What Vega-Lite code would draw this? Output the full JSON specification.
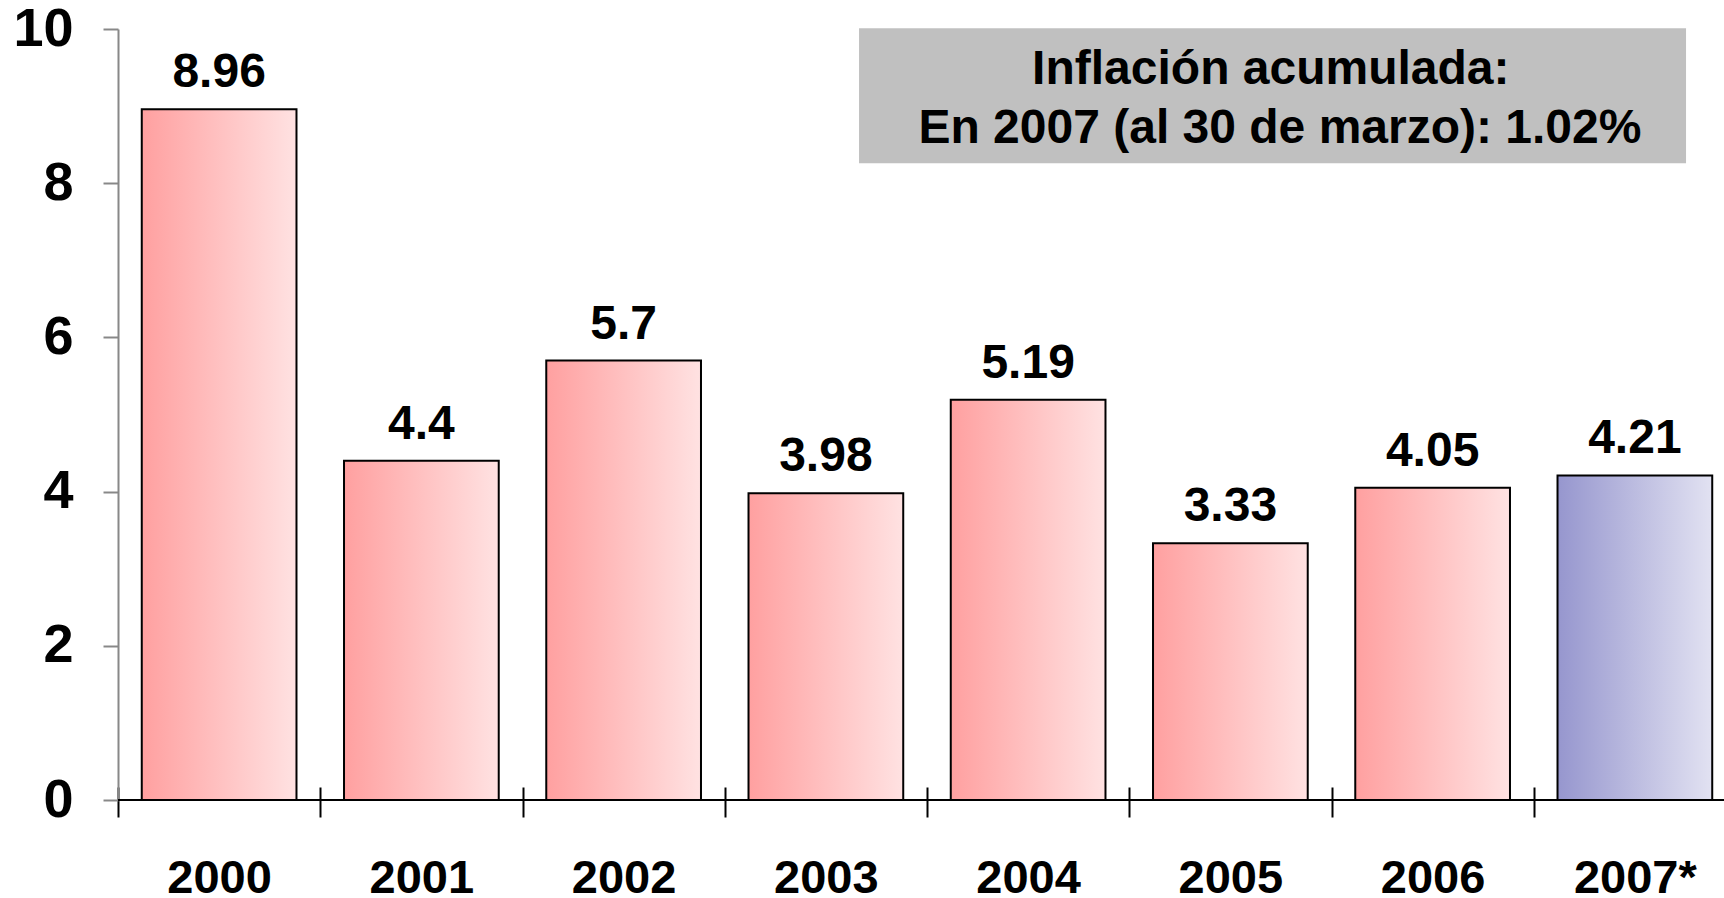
{
  "$schema": "https://vega.github.io/schema/vega-lite/v6.json",
  "autosize": "none",
  "width": 1618,
  "height": 771,
  "padding": {"left": 118, "top": 29, "right": -12, "bottom": 98},
  "background": "white",
  "config": {"view": {"stroke": null}, "font": "Liberation Sans"},
  "datasets": {
    "bars": [
      {"year": "2000", "value": 8.96, "label": "8.96", "group": "hist"},
      {"year": "2001", "value": 4.4, "label": "4.4", "group": "hist"},
      {"year": "2002", "value": 5.7, "label": "5.7", "group": "hist"},
      {"year": "2003", "value": 3.98, "label": "3.98", "group": "hist"},
      {"year": "2004", "value": 5.19, "label": "5.19", "group": "hist"},
      {"year": "2005", "value": 3.33, "label": "3.33", "group": "hist"},
      {"year": "2006", "value": 4.05, "label": "4.05", "group": "hist"},
      {"year": "2007*", "value": 4.21, "label": "4.21", "group": "proj"}
    ],
    "box": [{"x1": 3.664, "x2": 7.753, "y1": 8.26, "y2": 10.01}],
    "boxText": [
      {"line": "Inflación acumulada:", "x": 5.70, "y": 9.287},
      {"line": "En 2007 (al 30 de marzo): 1.02%", "x": 5.745, "y": 8.521}
    ]
  },
  "layer": [
    {
      "data": {"name": "box"},
      "mark": {"type": "rect", "color": "#c0c0c0"},
      "encoding": {
        "x": {"field": "x1", "type": "quantitative", "scale": {"domain": [0, 8], "nice": false, "zero": false}, "axis": null},
        "x2": {"field": "x2"},
        "y": {
          "field": "y1", "type": "quantitative",
          "scale": {"domain": [0, 10], "nice": false},
          "axis": {
            "title": null, "values": [0, 2, 4, 6, 8, 10], "grid": false,
            "labelFontSize": 54, "labelFontWeight": "bold", "labelColor": "black",
            "labelPadding": 30, "tickSize": 15, "tickColor": "#888888", "tickWidth": 2,
            "domainColor": "#888888", "domainWidth": 2
          }
        },
        "y2": {"field": "y2"}
      }
    },
    {
      "data": {"name": "boxText"},
      "mark": {"type": "text", "fontSize": 48, "fontWeight": "bold", "color": "black", "align": "center", "baseline": "alphabetic"},
      "encoding": {
        "x": {"field": "x", "type": "quantitative", "scale": {"domain": [0, 8], "nice": false, "zero": false}, "axis": null},
        "y": {
          "field": "y", "type": "quantitative",
          "scale": {"domain": [0, 10], "nice": false},
          "axis": {
            "title": null, "values": [0, 2, 4, 6, 8, 10], "grid": false,
            "labelFontSize": 54, "labelFontWeight": "bold", "labelColor": "black",
            "labelPadding": 30, "tickSize": 15, "tickColor": "#888888", "tickWidth": 2,
            "domainColor": "#888888", "domainWidth": 2
          }
        },
        "text": {"field": "line"}
      }
    },
    {
      "data": {"name": "bars"},
      "encoding": {
        "x": {
          "field": "year", "type": "nominal", "sort": null,
          "scale": {"paddingInner": 0, "paddingOuter": 0},
          "axis": {
            "title": null, "orient": "bottom", "offset": -13, "domain": false,
            "tickBand": "extent", "tickSize": 30, "tickColor": "black", "tickWidth": 2,
            "labelFontSize": 47, "labelFontWeight": "bold", "labelColor": "black",
            "labelBaseline": "alphabetic", "labelPadding": 75, "labelAngle": 0
          }
        },
        "y": {
          "field": "value", "type": "quantitative",
          "scale": {"domain": [0, 10], "nice": false},
          "axis": {
            "title": null, "values": [0, 2, 4, 6, 8, 10], "grid": false,
            "labelFontSize": 54, "labelFontWeight": "bold", "labelColor": "black",
            "labelPadding": 30, "tickSize": 15, "tickColor": "#888888", "tickWidth": 2,
            "domainColor": "#888888", "domainWidth": 2
          }
        }
      },
      "layer": [
        {
          "transform": [{"filter": "datum.group === 'hist'"}],
          "mark": {
            "type": "bar", "stroke": "black", "strokeWidth": 2, "width": {"band": 0.765},
            "fill": {"gradient": "linear", "x1": 0, "y1": 0, "x2": 1, "y2": 0,
              "stops": [{"offset": 0, "color": "#ffa0a0"}, {"offset": 1, "color": "#ffe2e2"}]}
          }
        },
        {
          "transform": [{"filter": "datum.group === 'proj'"}],
          "mark": {
            "type": "bar", "stroke": "black", "strokeWidth": 2, "width": {"band": 0.765},
            "fill": {"gradient": "linear", "x1": 0, "y1": 0, "x2": 1, "y2": 0,
              "stops": [{"offset": 0, "color": "#9696ce"}, {"offset": 1, "color": "#e2e2f2"}]}
          }
        },
        {
          "mark": {"type": "text", "fontSize": 48, "fontWeight": "bold", "color": "black", "baseline": "alphabetic", "dy": -22},
          "encoding": {"text": {"field": "label"}}
        },
        {
          "mark": {"type": "rule", "color": "black", "strokeWidth": 2},
          "encoding": {"y": {"datum": 0}, "x": null}
        }
      ]
    }
  ],
  "resolve": {"scale": {"x": "independent"}}
}
